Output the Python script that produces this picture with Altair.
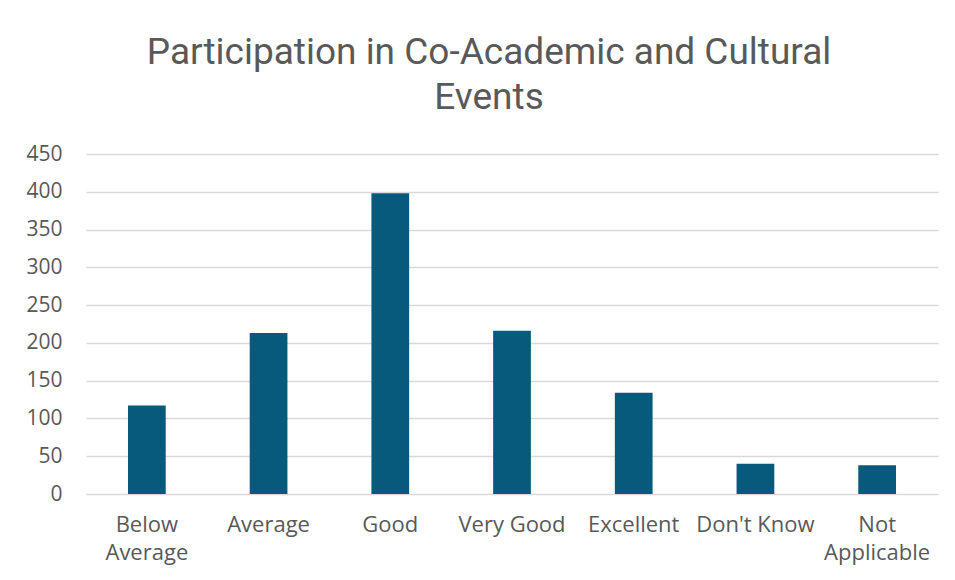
import altair as alt
import pandas as pd

categories = ["Below Average", "Average", "Good", "Very Good", "Excellent", "Don't Know", "Not Applicable"]
values = [117, 213, 398, 216, 134, 40, 38]
y_ticks = [0, 50, 100, 150, 200, 250, 300, 350, 400, 450]

df = pd.DataFrame({"category": categories, "value": values})

label_expr = ("datum.label == 'Below Average' ? ['Below', 'Average'] : "
              "datum.label == 'Not Applicable' ? ['Not', 'Applicable'] : datum.label")

chart = alt.Chart(df).mark_bar(color="#085a7d").encode(
    x=alt.X("category:N", sort=categories, title=None,
            scale=alt.Scale(paddingInner=0.69, paddingOuter=0.345),
            axis=alt.Axis(labelAngle=0, labelExpr=label_expr, labelFont="Open Sans",
                          labelFontSize=22, labelColor="#595959", labelPadding=20,
                          labelLineHeight=28, ticks=False, domain=False, labelBaseline="top")),
    y=alt.Y("value:Q", title=None,
            scale=alt.Scale(domain=[0, 450], nice=False),
            axis=alt.Axis(values=y_ticks, labelFont="Open Sans", labelFontSize=21,
                          labelColor="#595959", labelPadding=24, ticks=False,
                          domain=False, gridColor="#d9d9d9", gridWidth=1.5)),
).properties(
    width=852,
    height=340,
    title=alt.TitleParams(
        ["Participation in Co-Academic and Cultural", "Events"],
        font="Roboto", fontSize=37, fontWeight="normal", color="#595959",
        anchor="middle", dx=-23, lineHeight=45, offset=26,
    ),
    autosize=alt.AutoSizeParams(type="none"),
    padding={"left": 78, "top": 146, "right": 9, "bottom": 78},
).configure_view(stroke=None).configure_axisX(grid=False)

chart.save("out.html", embed_options={"renderer": "svg", "actions": False})
